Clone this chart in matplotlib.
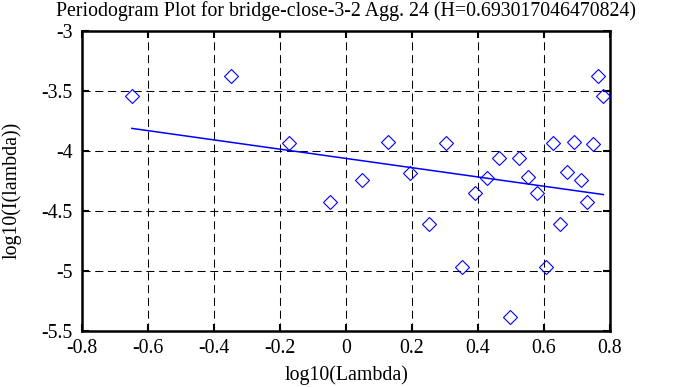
import matplotlib
matplotlib.use("Agg")
import matplotlib.pyplot as plt
import numpy as np

title = "Periodogram Plot for bridge-close-3-2 Agg. 24 (H=0.693017046470824)"
xlabel = "log10(Lambda)"
ylabel = "log10(I(lambda))"

log_lambda = [-0.649, -0.349, -0.173, -0.048, 0.048, 0.128, 0.195, 0.253, 0.304,
              0.350, 0.390, 0.428, 0.464, 0.497, 0.524, 0.553, 0.580, 0.605,
              0.626, 0.648, 0.670, 0.692, 0.712, 0.729, 0.749, 0.765, 0.780]
log_I = [-3.540, -3.372, -3.936, -4.422, -4.242, -3.922, -4.181, -4.611, -3.931,
         -4.964, -4.347, -4.228, -4.056, -5.381, -4.056, -4.219, -4.347, -4.964,
         -3.931, -4.611, -4.178, -3.922, -4.242, -4.422, -3.942, -3.372, -3.542]

fit_slope = -0.386
fit_intercept = -4.062

xticks = [-0.8, -0.6, -0.4, -0.2, 0, 0.2, 0.4, 0.6, 0.8]
xticklabels = ["-0.8", "-0.6", "-0.4", "-0.2", "0", "0.2", "0.4", "0.6", "0.8"]
yticks = [-5.5, -5, -4.5, -4, -3.5, -3]
yticklabels = ["-5.5", "-5", "-4.5", "-4", "-3.5", "-3"]

plt.rcParams['font.family'] = ['Liberation Serif', 'DejaVu Serif']
plt.rcParams['lines.scale_dashes'] = False

FS = 14.3

fig = plt.figure(figsize=(6.88, 3.87), dpi=100)
ax = fig.add_axes([82/688, 56/387, 528/688, 300/387])

ax.set_xlim(-0.8, 0.8)
ax.set_ylim(-5.5, -3)

# grid
for xv in xticks[1:-1]:
    ax.axvline(xv, color='black', lw=0.75, dashes=(5.8, 3.4), zorder=1)
for yv in yticks[1:-1]:
    ax.axhline(yv, color='black', lw=0.75, dashes=(5.8, 3.4), zorder=1)

ax.plot(log_lambda, log_I, linestyle='none', marker='D', markersize=7.0,
        markerfacecolor='none', markeredgecolor='blue', markeredgewidth=0.8, zorder=3)

xs = np.array([min(log_lambda), max(log_lambda)])
ax.plot(xs, fit_intercept + fit_slope * xs, color='blue', lw=1.1, zorder=2)

ax.set_xticks(xticks)
ax.set_xticklabels(xticklabels)
ax.set_yticks(yticks)
ax.set_yticklabels(yticklabels)
ax.tick_params(direction='in', length=5, width=1.5, top=True, right=True,
               labelsize=FS, colors='black')
ax.tick_params(axis='x', pad=6)
ax.tick_params(axis='y', pad=7)
for s in ax.spines.values():
    s.set_linewidth(1.8)

fig.text(346/688, 1 - 11/387, title, ha='center', va='center', fontsize=FS)
fig.text(346/688, 1 - 375/387, xlabel, ha='center', va='center', fontsize=FS)
fig.text(12/688, 1 - 190/387, ylabel, ha='center', va='center', rotation=90, fontsize=FS)

fig.savefig("out.png", dpi=100)
